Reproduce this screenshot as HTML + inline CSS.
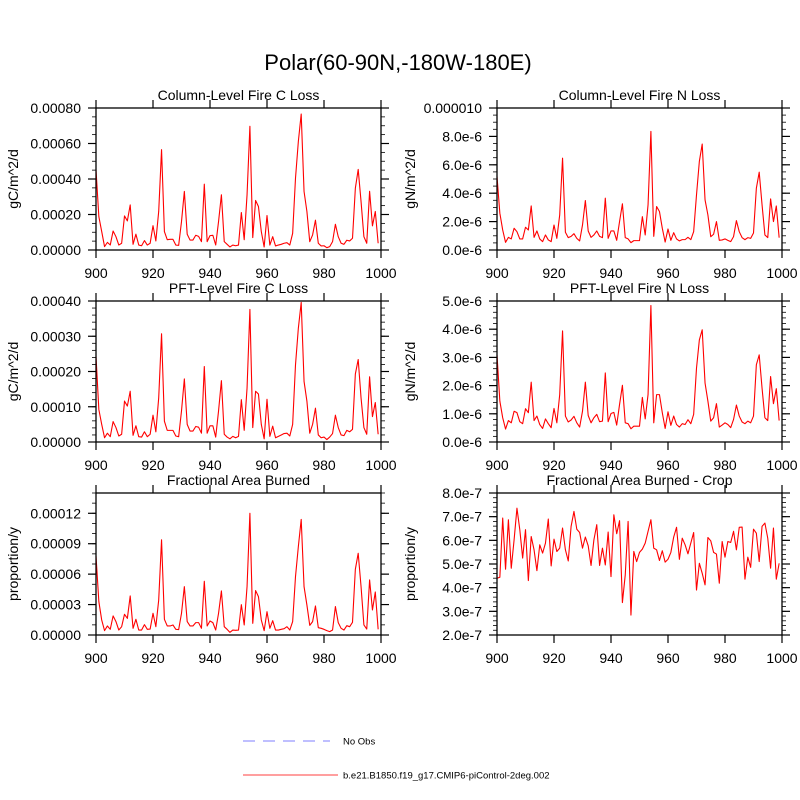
<!DOCTYPE html>
<html><head><meta charset="utf-8"><style>
html,body{margin:0;padding:0;background:#fff;}
svg{display:block;font-family:"Liberation Sans",sans-serif;}
</style></head><body>
<svg id="chart" width="800" height="800" viewBox="0 0 800 800">
<text x="398" y="70" font-size="22" text-anchor="middle">Polar(60-90N,-180W-180E)</text>
<g>
<line x1="243" y1="741" x2="330" y2="741" stroke="#9999ff" stroke-width="1.2" stroke-dasharray="12,8"/>
<text x="343" y="744.5" font-size="9.5">No Obs</text>
<line x1="243" y1="775" x2="338" y2="775" stroke="#ff6666" stroke-width="1.2"/>
<text x="343" y="778.5" font-size="9.5">b.e21.B1850.f19_g17.CMIP6-piControl-2deg.002</text>
</g>
</svg>
<script>
const years = Array.from({length:100},(_,i)=>900+i);
const xTicks = [900,920,940,960,980,1000];
// Column-level fire C loss (units of 1e-4 gC/m^2/d)
const colC = [4.52,1.88,1.04,0.19,0.43,0.28,1.07,0.75,0.28,0.38,1.92,1.64,2.54,0.32,0.89,0.28,0.24,0.53,0.28,0.38,1.37,0.51,2.17,5.65,1.04,0.58,0.6,0.6,0.28,0.26,1.6,3.3,0.89,0.56,0.56,0.83,0.77,0.47,3.71,0.47,0.81,0.83,0.28,1.6,3.11,0.47,0.32,0.17,0.28,0.24,0.28,2.11,0.58,3.11,6.97,0.7,2.79,2.45,1.04,0.17,1.94,0.28,0.75,0.23,0.28,0.32,0.38,0.41,0.28,0.94,4.05,6.12,7.66,3.3,2.17,0.47,0.85,1.68,0.38,0.23,0.24,0.13,0.19,0.47,1.45,0.75,0.38,0.32,0.55,0.51,0.66,3.48,4.54,2.73,0.75,0.38,3.31,1.36,2.17,0.38];
// Column-level fire N loss (units of 1e-6)
const colN = [5.18,2.59,1.41,0.54,0.89,0.78,1.53,1.29,0.78,0.78,1.6,1.41,3.1,0.89,1.34,0.78,0.59,1.06,0.71,0.59,1.76,0.82,2.47,6.47,1.25,0.87,0.96,1.15,0.82,0.64,1.76,3.48,1.34,0.89,1.06,1.34,0.96,0.87,3.65,0.82,1.34,1.34,0.68,2.0,3.25,0.87,0.78,0.52,0.66,0.66,0.66,2.35,1.06,3.18,8.35,0.96,3.06,2.71,1.53,0.56,1.48,0.68,1.22,0.78,0.64,0.73,0.73,0.89,0.73,1.29,3.88,6.24,7.46,3.53,2.47,0.94,1.11,2.0,0.68,0.71,0.78,0.68,0.59,0.94,2.07,1.29,0.87,0.73,0.87,0.82,1.2,4.35,5.48,3.18,1.06,0.87,3.6,2.0,3.1,0.87];
// PFT-level fire C loss (units of 1e-4)
const pftC = [2.43,0.92,0.5,0.12,0.25,0.15,0.58,0.41,0.17,0.22,1.16,1.02,1.44,0.19,0.46,0.15,0.14,0.29,0.15,0.22,0.76,0.29,1.25,3.07,0.59,0.33,0.33,0.33,0.17,0.15,0.88,1.79,0.5,0.31,0.31,0.44,0.42,0.25,2.14,0.25,0.46,0.46,0.14,0.88,1.74,0.22,0.14,0.09,0.16,0.12,0.16,1.2,0.33,1.53,3.76,0.41,1.44,1.36,0.5,0.09,1.21,0.16,0.45,0.12,0.16,0.2,0.24,0.25,0.17,0.5,2.19,3.23,3.96,1.72,1.16,0.25,0.5,0.96,0.2,0.12,0.14,0.07,0.14,0.24,0.76,0.41,0.2,0.18,0.33,0.29,0.36,1.93,2.34,1.25,0.41,0.22,1.85,0.72,1.12,0.22];
// PFT-level fire N loss (units of 1e-6)
const pftN = [3.09,1.45,0.86,0.46,0.76,0.68,1.09,1.04,0.72,0.65,1.18,1.04,2.12,0.76,0.92,0.62,0.48,0.82,0.65,0.51,1.19,0.68,1.68,3.94,0.92,0.71,0.78,0.91,0.68,0.53,1.09,2.12,0.94,0.68,0.86,0.98,0.72,0.74,2.45,0.72,1.01,1.05,0.6,1.33,2.01,0.68,0.65,0.47,0.56,0.56,0.56,1.58,0.82,1.68,4.84,0.68,1.68,1.68,1.04,0.48,1.07,0.59,0.92,0.62,0.53,0.65,0.62,0.79,0.65,0.98,2.62,3.62,3.98,2.09,1.45,0.74,0.86,1.36,0.53,0.6,0.68,0.62,0.51,0.8,1.31,0.92,0.71,0.65,0.74,0.68,0.92,2.74,3.09,1.91,0.86,0.76,2.32,1.36,1.89,0.76];
// Fractional area burned (units of 1e-5)
const farea = [7.8,3.29,1.48,0.43,0.89,0.56,1.88,1.32,0.49,0.82,2.04,1.64,3.85,0.66,1.55,0.49,0.49,1.02,0.56,0.59,2.14,0.82,3.45,9.38,1.55,0.89,0.89,0.99,0.56,0.53,2.14,4.77,1.32,0.89,0.89,1.22,1.22,0.66,5.3,0.89,1.38,1.22,0.49,2.14,4.34,0.82,0.56,0.26,0.49,0.46,0.49,2.99,0.99,4.77,12.0,1.15,4.38,3.78,1.48,0.43,2.3,0.66,1.41,0.49,0.49,0.56,0.62,0.82,0.49,1.32,5.76,8.72,11.4,4.77,2.96,0.95,1.32,2.86,0.72,0.66,0.56,0.43,0.33,0.49,2.8,1.22,0.66,0.49,0.92,0.82,1.25,6.48,8.06,4.77,0.99,0.59,5.43,2.47,4.24,0.56];
// Fractional area burned - crop (units of 1e-7)
const fcrop = [4.4,4.44,6.94,4.78,6.87,4.82,6.02,7.36,6.45,5.25,6.45,4.3,6.16,5.6,4.72,5.81,5.46,5.88,6.9,4.92,6.05,5.53,5.67,6.52,5.6,5.13,6.59,7.22,6.47,6.33,5.67,6.14,5.77,4.94,6.02,6.66,4.94,5.67,4.96,6.35,4.47,7.08,6.28,6.83,3.37,4.54,6.8,2.84,5.53,5.1,5.49,5.63,5.88,6.38,6.87,5.67,5.6,5.15,5.56,5.08,5.2,5.49,6.14,6.55,5.2,6.09,5.81,5.43,5.88,6.33,3.9,5.03,4.61,4.12,6.12,5.98,5.49,5.42,4.19,5.95,5.29,5.95,5.91,6.38,5.6,6.55,6.56,4.36,5.29,4.86,6.47,6.3,5.1,6.59,6.73,6.09,4.82,6.52,4.36,5.03];
const ticksColC = ["0.00000","0.00020","0.00040","0.00060","0.00080"];
const ticksColN = ["0.0e-6","2.0e-6","4.0e-6","6.0e-6","8.0e-6","0.000010"];
const ticksPftC = ["0.00000","0.00010","0.00020","0.00030","0.00040"];
const ticksPftN = ["0.0e-6","1.0e-6","2.0e-6","3.0e-6","4.0e-6","5.0e-6"];
const ticksFarea = ["0.00000","0.00003","0.00006","0.00009","0.00012"];
const ticksFcrop = ["2.0e-7","3.0e-7","4.0e-7","5.0e-7","6.0e-7","7.0e-7","8.0e-7"];

const NS="http://www.w3.org/2000/svg";
const svg=document.getElementById('chart');
function mk(tag,attrs,parent){const e=document.createElementNS(NS,tag);for(const k in attrs)e.setAttribute(k,attrs[k]);(parent||svg).appendChild(e);return e;}

const panels=[
 {name:'column-fire-c-loss',title:'Column-Level Fire C Loss',ylab:'gC/m^2/d',x0:96,x1:381,y0:108,y1:250,data:colC,ymin:0,ymax:8,major:2,minor:0.5,labels:ticksColC,ytx:13},
 {name:'column-fire-n-loss',title:'Column-Level Fire N Loss',ylab:'gN/m^2/d',x0:497,x1:782,y0:108,y1:250,data:colN,ymin:0,ymax:10,major:2,minor:0.5,labels:ticksColN,ytx:410},
 {name:'pft-fire-c-loss',title:'PFT-Level Fire C Loss',ylab:'gC/m^2/d',x0:96,x1:381,y0:301,y1:442,data:pftC,ymin:0,ymax:4,major:1,minor:0.2,labels:ticksPftC,ytx:13},
 {name:'pft-fire-n-loss',title:'PFT-Level Fire N Loss',ylab:'gN/m^2/d',x0:497,x1:782,y0:301,y1:442,data:pftN,ymin:0,ymax:5,major:1,minor:0.2,labels:ticksPftN,ytx:410},
 {name:'fractional-area-burned',title:'Fractional Area Burned',ylab:'proportion/y',x0:96,x1:381,y0:493,y1:635,data:farea,ymin:0,ymax:14,major:3,minor:1,labels:ticksFarea,ytx:13},
 {name:'fractional-area-burned-crop',title:'Fractional Area Burned - Crop',ylab:'proportion/y',x0:497,x1:782,y0:493,y1:635,data:fcrop,ymin:2,ymax:8,major:1,minor:0.2,labels:ticksFcrop,ytx:410}
];

panels.forEach(p=>{
  const g=mk('g',{});
  
  
  const sx=v=>p.x0+(v-900)/100*(p.x1-p.x0);
  const sy=v=>p.y1-(v-p.ymin)/(p.ymax-p.ymin)*(p.y1-p.y0);
  const t=mk('text',{x:(p.x0+p.x1)/2,y:p.y0-8,'font-size':14,'text-anchor':'middle'},g);
  t.textContent=p.title;
  
  
  const d=p.data.map((v,i)=>(i?'L':'M')+sx(years[i]).toFixed(2)+','+sy(v).toFixed(2)).join('');
  const path=mk('path',{d:d,fill:'none',stroke:'#ff0000','stroke-width':1.1,'stroke-linejoin':'round'},g);
  
  
  const fr=mk('rect',{x:p.x0,y:p.y0,width:p.x1-p.x0,height:p.y1-p.y0,fill:'none',stroke:'#000','stroke-width':1.3},g);
  
  
  xTicks.forEach(v=>{
    const x=sx(v);
    mk('line',{x1:x,y1:p.y1,x2:x,y2:p.y1+8,stroke:'#000','stroke-width':1.2},g);
    mk('line',{x1:x,y1:p.y0,x2:x,y2:p.y0-8,stroke:'#000','stroke-width':1.2},g);
    const l=mk('text',{x:x,y:p.y1+28,'font-size':14,'text-anchor':'middle'},g);
    l.textContent=v;
    
    
  });
  const nmin=Math.round((p.ymax-p.ymin)/p.minor);
  for(let i=0;i<=nmin;i++){
    const v=p.ymin+i*p.minor;const y=sy(v);
    mk('line',{x1:p.x0,y1:y,x2:p.x0-4,y2:y,stroke:'#000','stroke-width':0.8},g);
    mk('line',{x1:p.x1,y1:y,x2:p.x1+4,y2:y,stroke:'#000','stroke-width':0.8},g);
  }
  p.labels.forEach((lab,i)=>{
    const v=p.ymin+i*p.major;const y=sy(v);
    mk('line',{x1:p.x0,y1:y,x2:p.x0-8,y2:y,stroke:'#000','stroke-width':1.2},g);
    mk('line',{x1:p.x1,y1:y,x2:p.x1+8,y2:y,stroke:'#000','stroke-width':1.2},g);
    const l=mk('text',{x:p.x0-15,y:y+5,'font-size':14,'text-anchor':'end'},g);
    l.textContent=lab;
    
    
  });
  const yt=mk('text',{x:0,y:0,'font-size':14,'text-anchor':'middle',transform:`translate(${p.ytx+5},${(p.y0+p.y1)/2}) rotate(-90)`},g);
  yt.textContent=p.ylab;
  
  
});
</script>
</body></html>
